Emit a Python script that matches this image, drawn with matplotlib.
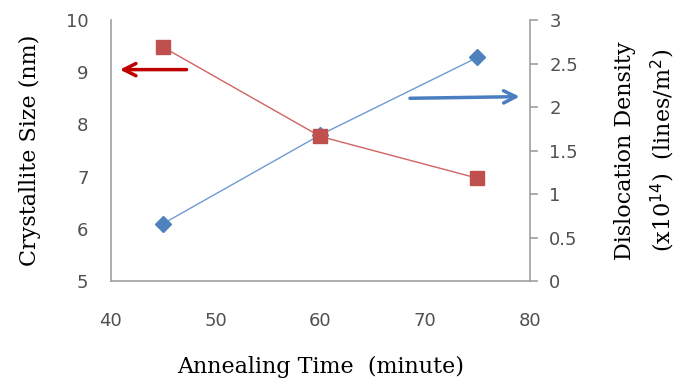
import numpy as np
import matplotlib.pyplot as plt

# Данные
time = [45, 60, 75]
crystallite_size = [9.48, 7.77, 6.97]
dislocation_density = [0.66, 1.68, 2.57]

fig = plt.figure(figsize=(6.88, 3.85), dpi=100)
ax1 = fig.add_axes([0.161, 0.270, 0.609, 0.678])
ax2 = ax1.twinx()
# красная серия поверх синей
ax1.set_zorder(ax2.get_zorder() + 1)
ax1.patch.set_visible(False)

ax1.plot(time, crystallite_size, color='#D06463', lw=1, marker='s', ms=10,
         mfc='#C0504D', mec='#C0504D', zorder=3)
ax2.plot(time, dislocation_density, color='#6E9BD2', lw=1, marker='D', ms=8,
         mfc='#4F81BD', mec='#4F81BD')

ax1.set_xlim(40, 80)
ax1.set_ylim(5, 10)
ax2.set_ylim(0, 3)
ax1.set_xticks([40, 50, 60, 70, 80])
ax1.set_yticks([5, 6, 7, 8, 9, 10])
ax2.set_yticks([0, 0.5, 1, 1.5, 2, 2.5, 3])
ax2.set_yticklabels(['0', '0.5', '1', '1.5', '2', '2.5', '3'])

for ax in (ax1, ax2):
    for s in ax.spines.values():
        s.set_color('#A0A0A0')
        s.set_linewidth(1.2)
    ax.spines['top'].set_visible(False)
ax1.spines['right'].set_visible(False)
ax2.spines['left'].set_visible(False)
ax2.spines['bottom'].set_visible(False)

ax1.tick_params(axis='x', length=0, pad=22, labelsize=13, labelcolor='#505050')
ax1.tick_params(axis='y', length=0, pad=16, labelsize=13, labelcolor='#505050')
ax2.tick_params(axis='y', length=6, width=1.2, color='#A0A0A0', pad=8,
                labelsize=13, labelcolor='#505050')

serif = 'DejaVu Serif'
ax1.set_xlabel('Annealing Time  (minute)', family=serif, fontsize=16, labelpad=19)
ax1.set_ylabel('Crystallite Size (nm)', family=serif, fontsize=16, labelpad=18)
ax2.set_ylabel('Dislocation Density\n(x10$^{14}$)  (lines/m$^{2}$)', family=serif,
               fontsize=16, labelpad=26, linespacing=1.6)

# Стрелки
ax1.annotate('', xy=(40.6, 9.05), xytext=(47.5, 9.05),
             arrowprops=dict(arrowstyle='->', color='#C00000', lw=2.5, mutation_scale=22))
ax2.annotate('', xy=(79.3, 2.12), xytext=(68.3, 2.10),
             arrowprops=dict(arrowstyle='->', color='#4A7EC0', lw=2.5, mutation_scale=22))

plt.savefig('out.png', dpi=100)
